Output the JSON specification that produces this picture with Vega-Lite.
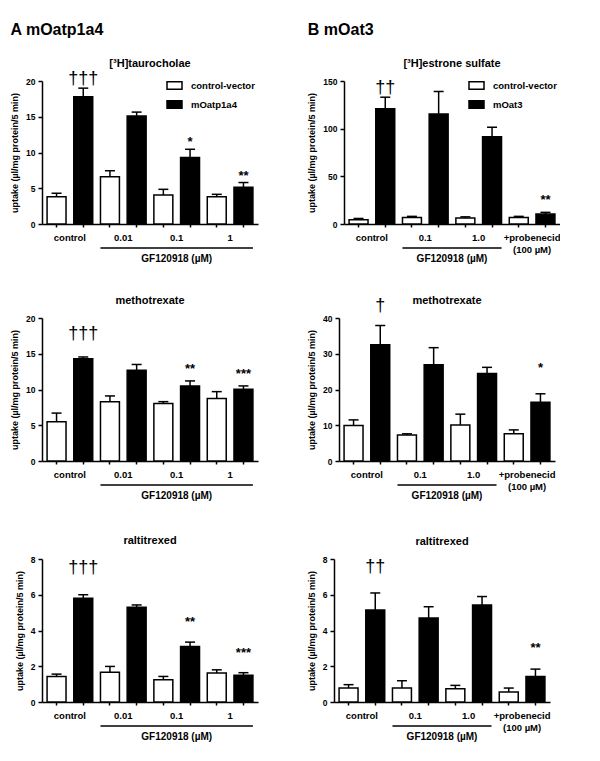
{
  "$schema": "https://vega.github.io/schema/vega-lite/v6.json",
  "background": "white",
  "padding": {"left": 10, "top": 22, "right": 0, "bottom": 0},
  "datasets": {
    "a1": [
      {"cat": "control_a", "type": "control-vector", "mean": 3.8, "hi": 4.3},
      {"cat": "control_b", "type": "mOatp1a4", "mean": 17.8, "hi": 19.0, "dag": "†††"},
      {"cat": "0.01_a", "type": "control-vector", "mean": 6.6, "hi": 7.45},
      {"cat": "0.01_b", "type": "mOatp1a4", "mean": 15.1, "hi": 15.65},
      {"cat": "0.1_a", "type": "control-vector", "mean": 4.05, "hi": 4.85},
      {"cat": "0.1_b", "type": "mOatp1a4", "mean": 9.3, "hi": 10.45, "star": "*"},
      {"cat": "1_a", "type": "control-vector", "mean": 3.8, "hi": 4.15},
      {"cat": "1_b", "type": "mOatp1a4", "mean": 5.15, "hi": 5.8, "star": "**"}
    ],
    "a2": [
      {"cat": "control_a", "type": "control-vector", "mean": 5.5, "hi": 6.7},
      {"cat": "control_b", "type": "mOatp1a4", "mean": 14.3, "hi": 14.55, "dag": "†††"},
      {"cat": "0.01_a", "type": "control-vector", "mean": 8.3, "hi": 9.1},
      {"cat": "0.01_b", "type": "mOatp1a4", "mean": 12.7, "hi": 13.5},
      {"cat": "0.1_a", "type": "control-vector", "mean": 8.05, "hi": 8.3},
      {"cat": "0.1_b", "type": "mOatp1a4", "mean": 10.5, "hi": 11.2, "star": "**"},
      {"cat": "1_a", "type": "control-vector", "mean": 8.75, "hi": 9.7},
      {"cat": "1_b", "type": "mOatp1a4", "mean": 10.05, "hi": 10.5, "star": "***"}
    ],
    "a3": [
      {"cat": "control_a", "type": "control-vector", "mean": 1.43, "hi": 1.56},
      {"cat": "control_b", "type": "mOatp1a4", "mean": 5.8, "hi": 6.0, "dag": "†††"},
      {"cat": "0.01_a", "type": "control-vector", "mean": 1.67, "hi": 1.99},
      {"cat": "0.01_b", "type": "mOatp1a4", "mean": 5.3, "hi": 5.43},
      {"cat": "0.1_a", "type": "control-vector", "mean": 1.25, "hi": 1.43},
      {"cat": "0.1_b", "type": "mOatp1a4", "mean": 3.1, "hi": 3.35, "star": "**"},
      {"cat": "1_a", "type": "control-vector", "mean": 1.62, "hi": 1.8},
      {"cat": "1_b", "type": "mOatp1a4", "mean": 1.49, "hi": 1.64, "star": "***"}
    ],
    "b1": [
      {"cat": "control_a", "type": "control-vector", "mean": 4.5, "hi": 5.8},
      {"cat": "control_b", "type": "mOat3", "mean": 121, "hi": 133, "dag": "††"},
      {"cat": "0.1_a", "type": "control-vector", "mean": 6.9, "hi": 8},
      {"cat": "0.1_b", "type": "mOat3", "mean": 115.5, "hi": 139},
      {"cat": "1.0_a", "type": "control-vector", "mean": 6.2, "hi": 7.5},
      {"cat": "1.0_b", "type": "mOat3", "mean": 91.5, "hi": 101.5},
      {"cat": "+probenecid_a", "type": "control-vector", "mean": 6.9, "hi": 8},
      {"cat": "+probenecid_b", "type": "mOat3", "mean": 10.4, "hi": 12.2, "star": "**"}
    ],
    "b2": [
      {"cat": "control_a", "type": "control-vector", "mean": 9.9, "hi": 11.5},
      {"cat": "control_b", "type": "mOat3", "mean": 32.5, "hi": 37.9, "dag": "†"},
      {"cat": "0.1_a", "type": "control-vector", "mean": 7.3, "hi": 7.6},
      {"cat": "0.1_b", "type": "mOat3", "mean": 26.9, "hi": 31.7},
      {"cat": "1.0_a", "type": "control-vector", "mean": 10.1, "hi": 13.1},
      {"cat": "1.0_b", "type": "mOat3", "mean": 24.5, "hi": 26.2},
      {"cat": "+probenecid_a", "type": "control-vector", "mean": 7.6, "hi": 8.7},
      {"cat": "+probenecid_b", "type": "mOat3", "mean": 16.4, "hi": 18.8, "star": "*"}
    ],
    "b3": [
      {"cat": "control_a", "type": "control-vector", "mean": 0.78, "hi": 0.97},
      {"cat": "control_b", "type": "mOat3", "mean": 5.15, "hi": 6.1, "dag": "††"},
      {"cat": "0.1_a", "type": "control-vector", "mean": 0.78, "hi": 1.19},
      {"cat": "0.1_b", "type": "mOat3", "mean": 4.7, "hi": 5.33},
      {"cat": "1.0_a", "type": "control-vector", "mean": 0.74, "hi": 0.93},
      {"cat": "1.0_b", "type": "mOat3", "mean": 5.43, "hi": 5.9},
      {"cat": "+probenecid_a", "type": "control-vector", "mean": 0.56, "hi": 0.78},
      {"cat": "+probenecid_b", "type": "mOat3", "mean": 1.43, "hi": 1.84, "star": "**"}
    ]
  },
  "config": {
    "font": "Liberation Sans",
    "view": {"stroke": null},
    "axis": {"domainColor": "black", "domainWidth": 1.5, "tickColor": "black", "tickWidth": 1.5, "labelFont": "Liberation Sans", "labelFontWeight": "bold", "labelColor": "black", "titleColor": "black", "grid": false, "labelOverlap": false},
    "axisX": {"tickSize": 3, "labelFontSize": 9.5, "labelPadding": 5, "labelOffset": 13.35, "labelAngle": 0, "title": null, "labelFlush": false, "labelLineHeight": 12},
    "axisY": {"tickSize": 4, "labelFontSize": 8.5, "titleFontSize": 9, "titleFontWeight": "bold", "titlePadding": 6, "labelPadding": 3},
    "title": {"fontSize": 11, "fontWeight": "bold", "color": "black", "offset": 8, "frame": "group", "font": "Liberation Sans"},
    "legend": {"orient": "none", "legendX": 124, "legendY": -4, "title": null, "labelFontSize": 9.5, "labelFontWeight": "bold", "labelFont": "Liberation Sans", "labelColor": "black", "symbolType": "M-1,-0.5H1V0.5H-1Z", "symbolSize": 225, "symbolStrokeColor": "black", "symbolStrokeWidth": 1.5, "rowPadding": 3, "labelOffset": 8}
  },
  "resolve": {"scale": {"x": "independent", "y": "independent", "fill": "independent"}, "legend": {"fill": "independent"}},
  "spacing": 33,
  "vconcat": [
    {
      "resolve": {"scale": {"x": "independent", "y": "independent", "fill": "independent"}, "legend": {"fill": "independent"}},
      "spacing": 29,
      "vconcat": [
        {
          "resolve": {"scale": {"x": "independent", "y": "independent", "fill": "independent"}, "legend": {"fill": "independent"}},
          "spacing": 49,
          "hconcat": [
            {
              "title": {"text": "A mOatp1a4", "anchor": "start", "fontSize": 16, "offset": 20, "frame": "bounds"},
              "vconcat": [
                {
                  "width": 216, "height": 143,
                  "title": {"text": "[³H]taurocholae", "offset": 1},
                  "data": {"name": "a1"},
                  "layer": [
                    {"mark": {"type": "bar", "stroke": "black", "strokeWidth": 1.5},
                     "encoding": {
                       "x": {"field": "cat", "type": "nominal", "scale": {"domain": ["control_a","control_b","0.01_a","0.01_b","0.1_a","0.1_b","1_a","1_b"], "paddingInner": 0.29, "paddingOuter": 0.19},
                             "axis": {"labelExpr": "indexof(datum.label, '_a') > 0 ? replace(datum.label, '_a', '') : ''"}},
                       "y": {"field": "mean", "type": "quantitative", "scale": {"domain": [0, 20], "nice": false}, "axis": {"values": [0,5,10,15,20], "tickCount": 10, "title": "uptake (µl/mg protein/5 min)"}},
                       "fill": {"field": "type", "type": "nominal", "scale": {"domain": ["control-vector", "mOatp1a4"], "range": ["white", "black"]}}
                     }},
                    {"mark": {"type": "rule", "strokeWidth": 1.5, "color": "black"},
                     "encoding": {"x": {"field": "cat", "type": "nominal"}, "y": {"field": "mean", "type": "quantitative"}, "y2": {"field": "hi"}}},
                    {"mark": {"type": "tick", "size": 10, "thickness": 1.5, "color": "black", "opacity": 1},
                     "encoding": {"x": {"field": "cat", "type": "nominal"}, "y": {"field": "hi", "type": "quantitative"}}},
                    {"transform": [{"filter": "datum.dag"}],
                     "mark": {"type": "text", "fontSize": 18, "baseline": "alphabetic", "dy": -4, "color": "black"},
                     "encoding": {"x": {"field": "cat", "type": "nominal"}, "y": {"field": "hi", "type": "quantitative"}, "text": {"field": "dag"}}},
                    {"transform": [{"filter": "datum.star"}],
                     "mark": {"type": "text", "fontSize": 13, "fontWeight": "bold", "baseline": "alphabetic", "dy": -3, "color": "black"},
                     "encoding": {"x": {"field": "cat", "type": "nominal"}, "y": {"field": "hi", "type": "quantitative"}, "text": {"field": "star"}}},
                    {"data": {"values": [{"a": "0.01_a", "b": "1_b"}]},
                     "mark": {"type": "rule", "strokeWidth": 1.5, "color": "black"},
                     "encoding": {"x": {"field": "a", "type": "nominal", "bandPosition": 0}, "x2": {"field": "b", "bandPosition": 1}, "y": {"datum": -3.36}}},
                    {"data": {"values": [{"t": "GF120918 (µM)", "c": "0.1_a"}]},
                     "mark": {"type": "text", "dx": 13.35, "fontSize": 10, "fontWeight": "bold", "baseline": "middle", "color": "black"},
                     "encoding": {"x": {"field": "c", "type": "nominal"}, "y": {"datum": -4.9}, "text": {"field": "t"}}}
                  ]
                }
              ]
            },
            {
              "title": {"text": "B mOat3", "anchor": "start", "fontSize": 16, "offset": 20, "frame": "bounds"},
              "vconcat": [
                {
                  "width": 216, "height": 143,
                  "title": {"text": "[³H]estrone sulfate", "offset": 8},
                  "data": {"name": "b1"},
                  "layer": [
                    {"mark": {"type": "bar", "stroke": "black", "strokeWidth": 1.5},
                     "encoding": {
                       "x": {"field": "cat", "type": "nominal", "scale": {"domain": ["control_a","control_b","0.1_a","0.1_b","1.0_a","1.0_b","+probenecid_a","+probenecid_b"], "paddingInner": 0.29, "paddingOuter": 0.19},
                             "axis": {"labelExpr": "datum.label == '+probenecid_a' ? ['+probenecid', '(100 µM)'] : (indexof(datum.label, '_a') > 0 ? replace(datum.label, '_a', '') : '')"}},
                       "y": {"field": "mean", "type": "quantitative", "scale": {"domain": [0, 150], "nice": false}, "axis": {"values": [0,50,100,150], "tickCount": 10, "title": "uptake (µl/mg protein/5 min)"}},
                       "fill": {"field": "type", "type": "nominal", "scale": {"domain": ["control-vector", "mOat3"], "range": ["white", "black"]}}
                     }},
                    {"mark": {"type": "rule", "strokeWidth": 1.5, "color": "black"},
                     "encoding": {"x": {"field": "cat", "type": "nominal"}, "y": {"field": "mean", "type": "quantitative"}, "y2": {"field": "hi"}}},
                    {"mark": {"type": "tick", "size": 10, "thickness": 1.5, "color": "black", "opacity": 1},
                     "encoding": {"x": {"field": "cat", "type": "nominal"}, "y": {"field": "hi", "type": "quantitative"}}},
                    {"transform": [{"filter": "datum.dag"}],
                     "mark": {"type": "text", "fontSize": 18, "baseline": "alphabetic", "dy": -4, "color": "black"},
                     "encoding": {"x": {"field": "cat", "type": "nominal"}, "y": {"field": "hi", "type": "quantitative"}, "text": {"field": "dag"}}},
                    {"transform": [{"filter": "datum.star"}],
                     "mark": {"type": "text", "fontSize": 13, "fontWeight": "bold", "baseline": "alphabetic", "dy": -8, "color": "black"},
                     "encoding": {"x": {"field": "cat", "type": "nominal"}, "y": {"field": "hi", "type": "quantitative"}, "text": {"field": "star"}}},
                    {"data": {"values": [{"a": "0.1_a", "b": "1.0_b"}]},
                     "mark": {"type": "rule", "strokeWidth": 1.5, "color": "black"},
                     "encoding": {"x": {"field": "a", "type": "nominal", "bandPosition": 0}, "x2": {"field": "b", "bandPosition": 1}, "y": {"datum": -25.2}}},
                    {"data": {"values": [{"t": "GF120918 (µM)", "c": "0.1_b"}]},
                     "mark": {"type": "text", "dx": 13.35, "fontSize": 10, "fontWeight": "bold", "baseline": "middle", "color": "black"},
                     "encoding": {"x": {"field": "c", "type": "nominal"}, "y": {"datum": -36.7}, "text": {"field": "t"}}}
                  ]
                }
              ]
            }
          ]
        },
        {
          "resolve": {"scale": {"x": "independent", "y": "independent", "fill": "independent"}, "legend": {"fill": "independent"}},
          "spacing": 49,
          "hconcat": [
            {
              "width": 216, "height": 143,
              "title": {"text": "methotrexate", "offset": 8},
              "data": {"name": "a2"},
              "layer": [
                {"mark": {"type": "bar", "stroke": "black", "strokeWidth": 1.5},
                 "encoding": {
                   "x": {"field": "cat", "type": "nominal", "scale": {"domain": ["control_a","control_b","0.01_a","0.01_b","0.1_a","0.1_b","1_a","1_b"], "paddingInner": 0.29, "paddingOuter": 0.19},
                         "axis": {"labelExpr": "indexof(datum.label, '_a') > 0 ? replace(datum.label, '_a', '') : ''"}},
                   "y": {"field": "mean", "type": "quantitative", "scale": {"domain": [0, 20], "nice": false}, "axis": {"values": [0,5,10,15,20], "tickCount": 10, "title": "uptake (µl/mg protein/5 min)"}},
                   "fill": {"field": "type", "type": "nominal", "scale": {"domain": ["control-vector", "mOatp1a4"], "range": ["white", "black"]}, "legend": null}
                 }},
                {"mark": {"type": "rule", "strokeWidth": 1.5, "color": "black"},
                 "encoding": {"x": {"field": "cat", "type": "nominal"}, "y": {"field": "mean", "type": "quantitative"}, "y2": {"field": "hi"}}},
                {"mark": {"type": "tick", "size": 10, "thickness": 1.5, "color": "black", "opacity": 1},
                 "encoding": {"x": {"field": "cat", "type": "nominal"}, "y": {"field": "hi", "type": "quantitative"}}},
                {"transform": [{"filter": "datum.dag"}],
                 "mark": {"type": "text", "fontSize": 18, "baseline": "alphabetic", "dy": -18, "color": "black"},
                 "encoding": {"x": {"field": "cat", "type": "nominal"}, "y": {"field": "hi", "type": "quantitative"}, "text": {"field": "dag"}}},
                {"transform": [{"filter": "datum.star"}],
                 "mark": {"type": "text", "fontSize": 13, "fontWeight": "bold", "baseline": "alphabetic", "dy": -8, "color": "black"},
                 "encoding": {"x": {"field": "cat", "type": "nominal"}, "y": {"field": "hi", "type": "quantitative"}, "text": {"field": "star"}}},
                {"data": {"values": [{"a": "0.01_a", "b": "1_b"}]},
                 "mark": {"type": "rule", "strokeWidth": 1.5, "color": "black"},
                 "encoding": {"x": {"field": "a", "type": "nominal", "bandPosition": 0}, "x2": {"field": "b", "bandPosition": 1}, "y": {"datum": -3.36}}},
                {"data": {"values": [{"t": "GF120918 (µM)", "c": "0.1_a"}]},
                 "mark": {"type": "text", "dx": 13.35, "fontSize": 10, "fontWeight": "bold", "baseline": "middle", "color": "black"},
                 "encoding": {"x": {"field": "c", "type": "nominal"}, "y": {"datum": -4.9}, "text": {"field": "t"}}}
              ]
            },
            {
              "width": 216, "height": 143,
              "title": {"text": "methotrexate", "offset": -9},
              "data": {"name": "b2"},
              "layer": [
                {"mark": {"type": "bar", "stroke": "black", "strokeWidth": 1.5},
                 "encoding": {
                   "x": {"field": "cat", "type": "nominal", "scale": {"domain": ["control_a","control_b","0.1_a","0.1_b","1.0_a","1.0_b","+probenecid_a","+probenecid_b"], "paddingInner": 0.29, "paddingOuter": 0.19},
                         "axis": {"labelExpr": "datum.label == '+probenecid_a' ? ['+probenecid', '(100 µM)'] : (indexof(datum.label, '_a') > 0 ? replace(datum.label, '_a', '') : '')"}},
                   "y": {"field": "mean", "type": "quantitative", "scale": {"domain": [0, 40], "nice": false}, "axis": {"values": [0,10,20,30,40], "tickCount": 10, "title": "uptake (µl/mg protein/5 min)"}},
                   "fill": {"field": "type", "type": "nominal", "scale": {"domain": ["control-vector", "mOat3"], "range": ["white", "black"]}, "legend": null}
                 }},
                {"mark": {"type": "rule", "strokeWidth": 1.5, "color": "black"},
                 "encoding": {"x": {"field": "cat", "type": "nominal"}, "y": {"field": "mean", "type": "quantitative"}, "y2": {"field": "hi"}}},
                {"mark": {"type": "tick", "size": 10, "thickness": 1.5, "color": "black", "opacity": 1},
                 "encoding": {"x": {"field": "cat", "type": "nominal"}, "y": {"field": "hi", "type": "quantitative"}}},
                {"transform": [{"filter": "datum.dag"}],
                 "mark": {"type": "text", "fontSize": 18, "baseline": "alphabetic", "dy": -15, "color": "black"},
                 "encoding": {"x": {"field": "cat", "type": "nominal"}, "y": {"field": "hi", "type": "quantitative"}, "text": {"field": "dag"}}},
                {"transform": [{"filter": "datum.star"}],
                 "mark": {"type": "text", "fontSize": 13, "fontWeight": "bold", "baseline": "alphabetic", "dy": -22, "color": "black"},
                 "encoding": {"x": {"field": "cat", "type": "nominal"}, "y": {"field": "hi", "type": "quantitative"}, "text": {"field": "star"}}},
                {"data": {"values": [{"a": "0.1_a", "b": "1.0_b"}]},
                 "mark": {"type": "rule", "strokeWidth": 1.5, "color": "black"},
                 "encoding": {"x": {"field": "a", "type": "nominal", "bandPosition": 0}, "x2": {"field": "b", "bandPosition": 1}, "y": {"datum": -6.71}}},
                {"data": {"values": [{"t": "GF120918 (µM)", "c": "0.1_b"}]},
                 "mark": {"type": "text", "dx": 13.35, "fontSize": 10, "fontWeight": "bold", "baseline": "middle", "color": "black"},
                 "encoding": {"x": {"field": "c", "type": "nominal"}, "y": {"datum": -9.79}, "text": {"field": "t"}}}
              ]
            }
          ]
        }
      ]
    },
    {
      "resolve": {"scale": {"x": "independent", "y": "independent", "fill": "independent"}, "legend": {"fill": "independent"}},
      "spacing": 49,
      "hconcat": [
        {
          "width": 216, "height": 143,
          "title": {"text": "raltitrexed", "offset": 9},
          "data": {"name": "a3"},
          "layer": [
            {"mark": {"type": "bar", "stroke": "black", "strokeWidth": 1.5},
             "encoding": {
               "x": {"field": "cat", "type": "nominal", "scale": {"domain": ["control_a","control_b","0.01_a","0.01_b","0.1_a","0.1_b","1_a","1_b"], "paddingInner": 0.29, "paddingOuter": 0.19},
                     "axis": {"labelExpr": "indexof(datum.label, '_a') > 0 ? replace(datum.label, '_a', '') : ''"}},
               "y": {"field": "mean", "type": "quantitative", "scale": {"domain": [0, 8], "nice": false}, "axis": {"values": [0,2,4,6,8], "tickCount": 10, "title": "uptake (µl/mg protein/5 min)"}},
               "fill": {"field": "type", "type": "nominal", "scale": {"domain": ["control-vector", "mOatp1a4"], "range": ["white", "black"]}, "legend": null}
             }},
            {"mark": {"type": "rule", "strokeWidth": 1.5, "color": "black"},
             "encoding": {"x": {"field": "cat", "type": "nominal"}, "y": {"field": "mean", "type": "quantitative"}, "y2": {"field": "hi"}}},
            {"mark": {"type": "tick", "size": 10, "thickness": 1.5, "color": "black", "opacity": 1},
             "encoding": {"x": {"field": "cat", "type": "nominal"}, "y": {"field": "hi", "type": "quantitative"}}},
            {"transform": [{"filter": "datum.dag"}],
             "mark": {"type": "text", "fontSize": 18, "baseline": "alphabetic", "dy": -22, "color": "black"},
             "encoding": {"x": {"field": "cat", "type": "nominal"}, "y": {"field": "hi", "type": "quantitative"}, "text": {"field": "dag"}}},
            {"transform": [{"filter": "datum.star"}],
             "mark": {"type": "text", "fontSize": 13, "fontWeight": "bold", "baseline": "alphabetic", "dy": -16, "color": "black"},
             "encoding": {"x": {"field": "cat", "type": "nominal"}, "y": {"field": "hi", "type": "quantitative"}, "text": {"field": "star"}}},
            {"data": {"values": [{"a": "0.01_a", "b": "1_b"}]},
             "mark": {"type": "rule", "strokeWidth": 1.5, "color": "black"},
             "encoding": {"x": {"field": "a", "type": "nominal", "bandPosition": 0}, "x2": {"field": "b", "bandPosition": 1}, "y": {"datum": -1.34}}},
            {"data": {"values": [{"t": "GF120918 (µM)", "c": "0.1_a"}]},
             "mark": {"type": "text", "dx": 13.35, "fontSize": 10, "fontWeight": "bold", "baseline": "middle", "color": "black"},
             "encoding": {"x": {"field": "c", "type": "nominal"}, "y": {"datum": -1.96}, "text": {"field": "t"}}}
          ]
        },
        {
          "width": 216, "height": 143,
          "title": {"text": "raltitrexed", "offset": 8},
          "data": {"name": "b3"},
          "layer": [
            {"mark": {"type": "bar", "stroke": "black", "strokeWidth": 1.5},
             "encoding": {
               "x": {"field": "cat", "type": "nominal", "scale": {"domain": ["control_a","control_b","0.1_a","0.1_b","1.0_a","1.0_b","+probenecid_a","+probenecid_b"], "paddingInner": 0.29, "paddingOuter": 0.19},
                     "axis": {"labelExpr": "datum.label == '+probenecid_a' ? ['+probenecid', '(100 µM)'] : (indexof(datum.label, '_a') > 0 ? replace(datum.label, '_a', '') : '')"}},
               "y": {"field": "mean", "type": "quantitative", "scale": {"domain": [0, 8], "nice": false}, "axis": {"values": [0,2,4,6,8], "tickCount": 10, "title": "uptake (µl/mg protein/5 min)"}},
               "fill": {"field": "type", "type": "nominal", "scale": {"domain": ["control-vector", "mOat3"], "range": ["white", "black"]}, "legend": null}
             }},
            {"mark": {"type": "rule", "strokeWidth": 1.5, "color": "black"},
             "encoding": {"x": {"field": "cat", "type": "nominal"}, "y": {"field": "mean", "type": "quantitative"}, "y2": {"field": "hi"}}},
            {"mark": {"type": "tick", "size": 10, "thickness": 1.5, "color": "black", "opacity": 1},
             "encoding": {"x": {"field": "cat", "type": "nominal"}, "y": {"field": "hi", "type": "quantitative"}}},
            {"transform": [{"filter": "datum.dag"}],
             "mark": {"type": "text", "fontSize": 18, "baseline": "alphabetic", "dy": -21, "color": "black"},
             "encoding": {"x": {"field": "cat", "type": "nominal"}, "y": {"field": "hi", "type": "quantitative"}, "text": {"field": "dag"}}},
            {"transform": [{"filter": "datum.star"}],
             "mark": {"type": "text", "fontSize": 13, "fontWeight": "bold", "baseline": "alphabetic", "dy": -17, "color": "black"},
             "encoding": {"x": {"field": "cat", "type": "nominal"}, "y": {"field": "hi", "type": "quantitative"}, "text": {"field": "star"}}},
            {"data": {"values": [{"a": "0.1_a", "b": "1.0_b"}]},
             "mark": {"type": "rule", "strokeWidth": 1.5, "color": "black"},
             "encoding": {"x": {"field": "a", "type": "nominal", "bandPosition": 0}, "x2": {"field": "b", "bandPosition": 1}, "y": {"datum": -1.34}}},
            {"data": {"values": [{"t": "GF120918 (µM)", "c": "0.1_b"}]},
             "mark": {"type": "text", "dx": 13.35, "fontSize": 10, "fontWeight": "bold", "baseline": "middle", "color": "black"},
             "encoding": {"x": {"field": "c", "type": "nominal"}, "y": {"datum": -1.96}, "text": {"field": "t"}}}
          ]
        }
      ]
    }
  ]
}
